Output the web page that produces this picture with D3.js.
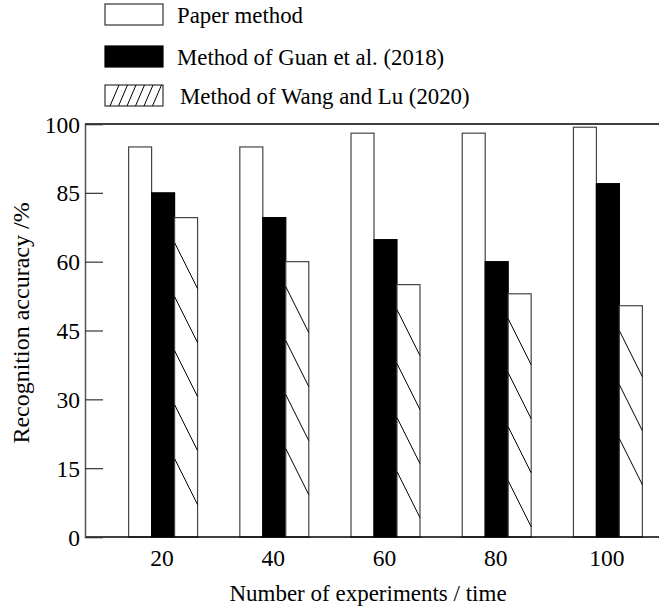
<!DOCTYPE html>
<html lang="en">
<head>
<meta charset="utf-8">
<title>Recognition accuracy</title>
<script src="https://d3js.org/d3.v7.min.js"></script>
<style>
  body { margin: 0; background: #fff; }
  text { font-family: "Liberation Serif", "Times New Roman", serif; fill: #000; }
</style>
</head>
<body>
<script>
  // data
  var groups = ["20", "40", "60", "80", "100"];
  var paperMethod = [95, 95, 98, 98, 99.3];
  var guanMethod = [85, 76, 68, 60, 87];
  var wangMethod = [76, 60, 55, 53, 50.4];
  var yTicks = [0, 15, 30, 45, 60, 85, 100];
  var seriesNames = ["Paper method", "Method of Guan et al. (2018)", "Method of Wang and Lu (2020)"];

  var width = 659, height = 608;
  var plotLeft = 85, plotRight = 659, plotTop = 124, plotBottom = 537;

  var svg = d3.select("body").append("svg")
    .attr("width", width)
    .attr("height", height);

  // the axis has equal spacing between its (uneven) labels
  var step = (plotBottom - plotTop) / (yTicks.length - 1);
  var y = d3.scaleLinear()
    .domain(yTicks)
    .range(yTicks.map(function(d, i) { return plotBottom - i * step; }));

  var x0 = d3.scaleBand()
    .domain(groups)
    .range([107.5, 663.5])
    .paddingInner(0.38)
    .paddingOuter(0.19);

  var x1 = d3.scaleBand()
    .domain([0, 1, 2])
    .range([0, x0.bandwidth()]);

  var rows = groups.map(function(g, i) {
    return { group: g, values: [paperMethod[i], guanMethod[i], wangMethod[i]] };
  });

  // bars
  var gGroups = svg.selectAll("g.grp")
    .data(rows)
    .enter().append("g")
    .attr("class", "grp")
    .attr("transform", function(d) { return "translate(" + x0(d.group) + ",0)"; });

  gGroups.selectAll("rect")
    .data(function(d) { return d.values.map(function(v, k) { return { k: k, v: v }; }); })
    .enter().append("rect")
    .attr("x", function(d) { return x1(d.k); })
    .attr("y", function(d) { return y(d.v); })
    .attr("width", x1.bandwidth())
    .attr("height", function(d) { return plotBottom - y(d.v); })
    .attr("fill", function(d) { return d.k == 1 ? "#000" : "#fff"; })
    .attr("stroke", function(d) { return d.k == 1 ? "#000" : "#444"; })
    .attr("stroke-width", 1.2);

  // hatch lines on Wang and Lu bars
  gGroups.each(function(d) {
    var bx = x1(2), bw = x1.bandwidth();
    var yt = y(d.values[2]);
    var g = d3.select(this);
    for (var ys = yt + 25; ys + 46 <= plotBottom; ys += 54) {
      g.append("line")
        .attr("x1", bx).attr("y1", ys)
        .attr("x2", bx + bw).attr("y2", ys + 46)
        .attr("stroke", "#000")
        .attr("stroke-width", 1);
    }
  });

  // frame lines
  svg.append("line")
    .attr("x1", plotLeft).attr("x2", plotRight)
    .attr("y1", plotTop).attr("y2", plotTop)
    .attr("stroke", "#000").attr("stroke-width", 1.5);
  svg.append("line")
    .attr("x1", plotLeft).attr("x2", plotRight)
    .attr("y1", plotBottom).attr("y2", plotBottom)
    .attr("stroke", "#000").attr("stroke-width", 1.5);

  // y axis, ticks pointing inward
  var yAxis = svg.append("g")
    .attr("transform", "translate(" + plotLeft + ",0)")
    .call(d3.axisRight(y).tickValues(yTicks).tickSize(18).tickFormat(d3.format("d")));
  yAxis.select(".domain").attr("stroke", "#555").attr("stroke-width", 1.5);
  yAxis.selectAll(".tick line").attr("stroke", "#333").attr("stroke-width", 1.2);
  yAxis.selectAll(".tick text")
    .attr("x", -5)
    .attr("text-anchor", "end")
    .attr("dy", "0.34em")
    .style("font-size", "23.5px")
    .style("font-family", "'Liberation Serif', serif");

  // x labels
  svg.selectAll("text.xlab")
    .data(groups)
    .enter().append("text")
    .attr("class", "xlab")
    .attr("x", function(d) { return x0(d) + x0.bandwidth() / 2 - 1; })
    .attr("y", 566)
    .attr("text-anchor", "middle")
    .style("font-size", "23.5px")
    .text(function(d) { return d; });

  svg.append("text")
    .attr("x", 368)
    .attr("y", 601)
    .attr("text-anchor", "middle")
    .style("font-size", "23px")
    .text("Number of experiments / time");

  svg.append("text")
    .attr("transform", "translate(29,323) rotate(-90)")
    .attr("text-anchor", "middle")
    .style("font-size", "24px")
    .text("Recognition accuracy /%");

  // legend
  var legend = svg.append("g");
  var legY = [4, 46, 85];
  var legTextX = [177, 177, 180];
  seriesNames.forEach(function(name, k) {
    legend.append("rect")
      .attr("x", 105).attr("y", legY[k])
      .attr("width", 58).attr("height", 21)
      .attr("fill", k == 1 ? "#000" : "#fff")
      .attr("stroke", k == 1 ? "#000" : "#333")
      .attr("stroke-width", 1.2);
    legend.append("text")
      .attr("x", legTextX[k])
      .attr("y", legY[k] + 19)
      .style("font-size", "22.8px")
      .text(name);
  });
  // slashes in the Wang and Lu legend box
  d3.range(6).forEach(function(i) {
    var bx = 110 + i * 8.5;
    legend.append("line")
      .attr("x1", bx).attr("y1", legY[2] + 21)
      .attr("x2", bx + 9).attr("y2", legY[2])
      .attr("stroke", "#000").attr("stroke-width", 1);
  });
</script>
</body>
</html>
